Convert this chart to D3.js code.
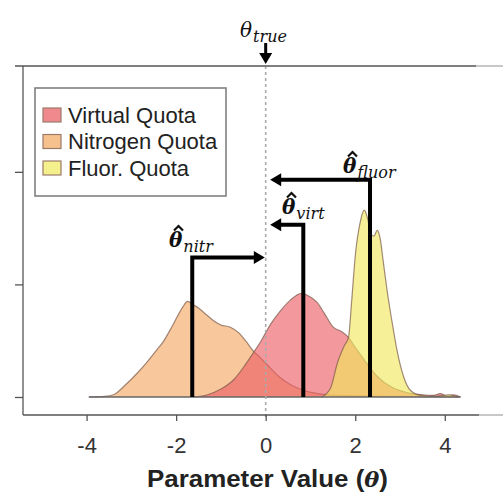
<!DOCTYPE html>
<html><head><meta charset="utf-8">
<script src="https://cdn.jsdelivr.net/npm/d3@7"></script>
<style>body{margin:0;background:#fff}svg{display:block}</style>
</head><body>
<script>
// ---- data ----
const seriesNames = ["Nitrogen Quota", "Virtual Quota", "Fluor. Quota"];
const legendOrder = ["Virtual Quota", "Nitrogen Quota", "Fluor. Quota"];
const nitrTheta = [-3.95,-3.6,-3.4,-3.1,-2.85,-2.65,-2.45,-2.29,-2.1,-1.98,-1.85,-1.75,-1.62,-1.5,-1.35,-1.17,-1.0,-0.79,-0.6,-0.45,-0.28,-0.12,0.05,0.3,0.55,0.84,1.1,1.4,2.0,3.0,4.3];
const nitrDens  = [0,0.005,0.02,0.12,0.22,0.31,0.41,0.49,0.62,0.71,0.80,0.85,0.82,0.79,0.74,0.68,0.64,0.62,0.57,0.50,0.41,0.35,0.28,0.18,0.11,0.06,0.035,0.02,0.01,0.005,0];
const virtTheta = [-1.6,-1.3,-1.0,-0.7,-0.45,-0.28,-0.1,0.1,0.32,0.55,0.8,0.95,1.15,1.3,1.51,1.7,1.85,2.0,2.2,2.5,2.8,3.2,3.5,3.75,3.9,4.05,4.2,4.35];
const virtDens  = [0,0.02,0.07,0.16,0.29,0.39,0.50,0.64,0.76,0.86,0.92,0.90,0.84,0.75,0.62,0.58,0.53,0.44,0.33,0.18,0.09,0.035,0.02,0.015,0.03,0.01,0.02,0];
const fluorTheta = [1.25,1.45,1.6,1.75,1.85,1.92,2.0,2.11,2.2,2.28,2.35,2.42,2.49,2.56,2.62,2.71,2.85,2.93,3.08,3.23,3.45,3.8,4.1,4.25,4.35];
const fluorDens  = [0,0.08,0.30,0.45,0.53,0.85,1.25,1.55,1.66,1.58,1.44,1.43,1.48,1.40,1.22,0.95,0.60,0.42,0.18,0.06,0.015,0.005,0.02,0.005,0];
const estimates = {nitr: -1.64, virt: 0.84, fluor: 2.33};
const cornerDens = {nitr: 1.24, virt: 1.53, fluor: 1.93};
const trueTheta = 0;
const xTicks = [-4,-2,0,2,4];
const yTicks = [0,1,2];
const colors = {"Virtual Quota":"#ec5a62","Nitrogen Quota":"#f4a660","Fluor. Quota":"#f0e85a"};
const swatch = {"Virtual Quota":"#f0898d","Nitrogen Quota":"#f6c18d","Fluor. Quota":"#f4f08c"};

const W=503,H=493;
const svg=d3.select("body").append("svg").attr("width",W).attr("height",H);
const x=d3.scaleLinear().domain([-5.42,5.3]).range([23,503]);
const y=d3.scaleLinear().domain([-0.16,2.94]).range([415,66]);

// densities
const dataMap={
 "Nitrogen Quota": nitrTheta.map((t,i)=>[t,nitrDens[i]]),
 "Virtual Quota": virtTheta.map((t,i)=>[t,virtDens[i]]),
 "Fluor. Quota": fluorTheta.map((t,i)=>[t,fluorDens[i]])
};
const area=d3.area().x(d=>x(d[0])).y0(y(0)).y1(d=>y(d[1])).curve(d3.curveMonotoneX);
const line=d3.line().x(d=>x(d[0])).y(d=>y(d[1])).curve(d3.curveMonotoneX);
seriesNames.forEach(n=>{
  svg.append("path").attr("d",area(dataMap[n])).attr("fill",colors[n]).attr("fill-opacity",0.62);
  svg.append("path").attr("d",line(dataMap[n])).attr("fill","none").attr("stroke","#7a5a4a").attr("stroke-opacity",0.7).attr("stroke-width",1.2);
});
// baseline
svg.append("line").attr("x1",x(-3.95)).attr("x2",x(4.35)).attr("y1",y(0)).attr("y2",y(0)).attr("stroke","#666").attr("stroke-width",1.3);

// dashed true line
svg.append("line").attr("x1",x(trueTheta)).attr("x2",x(trueTheta)).attr("y1",66).attr("y2",418)
  .attr("stroke","#aaa").attr("stroke-width",1.6).attr("stroke-dasharray","3,3");

// spines
svg.append("line").attr("x1",15).attr("x2",476).attr("y1",66).attr("y2",66).attr("stroke","#555").attr("stroke-width",1.3);
svg.append("line").attr("x1",476).attr("x2",503).attr("y1",66).attr("y2",66).attr("stroke","#aaa").attr("stroke-width",1.3);
svg.append("line").attr("x1",23).attr("x2",479).attr("y1",415).attr("y2",415).attr("stroke","#555").attr("stroke-width",1.3);
svg.append("line").attr("x1",479).attr("x2",503).attr("y1",415).attr("y2",415).attr("stroke","#aaa").attr("stroke-width",1.3);
svg.append("line").attr("x1",23).attr("x2",23).attr("y1",66).attr("y2",415).attr("stroke","#555").attr("stroke-width",1.3);

// axes
const xAxis=svg.append("g").attr("transform","translate(0,415)")
  .call(d3.axisBottom(x).tickValues(xTicks).tickSize(6).tickPadding(16).tickFormat(d=>d<0?"-"+Math.abs(d):d));
xAxis.select(".domain").remove();
xAxis.selectAll("line").attr("stroke","#555").attr("stroke-width",1.3);
xAxis.selectAll("text").attr("font-family","Liberation Sans, Arial, sans-serif").attr("font-size",22).attr("fill","#333");
const yAxis=svg.append("g").attr("transform","translate(23,0)")
  .call(d3.axisLeft(y).tickValues(yTicks).tickSize(8).tickFormat(""));
yAxis.select(".domain").remove();
yAxis.selectAll("line").attr("stroke","#555").attr("stroke-width",1.3);

// axis title
const tt=svg.append("text").attr("x",147).attr("y",487)
  .attr("textLength",241).attr("lengthAdjust","spacingAndGlyphs")
  .attr("font-family","Liberation Sans, Arial, sans-serif").attr("font-weight","bold").attr("font-size",23).attr("fill","#222");
tt.append("tspan").text("Parameter Value (");
tt.append("tspan").attr("font-style","italic").attr("font-family","DejaVu Serif, serif").attr("font-size",20).text("θ");
tt.append("tspan").text(")");

// estimate arrows
function arrowHead(tipX,tipY,dir){ // dir: -1 left, 1 right, 2 down
  const L=11,Wd=6.5;
  let pts;
  if(dir===2) pts=[[tipX,tipY],[tipX-Wd,tipY-L],[tipX+Wd,tipY-L]];
  else pts=[[tipX,tipY],[tipX-dir*L,tipY-Wd],[tipX-dir*L,tipY+Wd]];
  svg.append("path").attr("d","M"+pts.map(p=>p.join(",")).join("L")+"Z").attr("fill","#000");
}
function estArrow(est,cd,tipTheta,dir){
  const xs=x(est), yc=y(cd), tip=x(tipTheta);
  svg.append("path").attr("d",`M${xs},${y(0)}L${xs},${yc}L${tip-dir*10},${yc}`)
    .attr("fill","none").attr("stroke","#000").attr("stroke-width",4).attr("stroke-linejoin","miter");
  arrowHead(tip,yc,dir);
}
estArrow(estimates.nitr,cornerDens.nitr,-0.02,1);
estArrow(estimates.virt,cornerDens.virt,0.1,-1);
estArrow(estimates.fluor,cornerDens.fluor,0.1,-1);

// true arrow
svg.append("line").attr("x1",x(trueTheta)).attr("x2",x(trueTheta)).attr("y1",43).attr("y2",56).attr("stroke","#000").attr("stroke-width",3);
arrowHead(x(trueTheta),64,2);

// math labels
function mathLabel(px,py,hat,sub,bold){
  const t=svg.append("text").attr("x",px).attr("y",py).attr("font-family","DejaVu Serif, serif")
    .attr("font-style","italic").attr("fill","#111");
  t.append("tspan").attr("font-size",20).attr("font-weight",bold?"bold":"normal").text("θ");
  t.append("tspan").attr("font-size",16).attr("dy",5).attr("dx",1).attr("font-weight","normal").text(sub);
  if(hat){
    const cx=px+9.5, top=py-21;
    svg.append("path").attr("d",`M${cx-4.5},${top+4.5}L${cx},${top}L${cx+4.5},${top+4.5}`)
      .attr("fill","none").attr("stroke","#111").attr("stroke-width",2.2).attr("stroke-linejoin","miter");
  }
}
mathLabel(240,37,false,"true",false);
mathLabel(343,173,true,"fluor",true);
mathLabel(282,214,true,"virt",true);
mathLabel(169,247,true,"nitr",true);

// legend
svg.append("rect").attr("x",35).attr("y",88).attr("width",191).attr("height",108)
  .attr("fill","#fff").attr("stroke","#808080").attr("stroke-width",1.6);
legendOrder.forEach((n,i)=>{
  const cy=115+i*26.5;
  svg.append("rect").attr("x",43).attr("y",cy-7).attr("width",18).attr("height",14)
    .attr("fill",swatch[n]).attr("stroke","#9a7a6a").attr("stroke-width",1.2);
  svg.append("text").attr("x",68).attr("y",cy).attr("dy","0.36em").attr("font-family","Liberation Sans, Arial, sans-serif")
    .attr("font-size",22).attr("fill","#222").text(n);
});
</script>
</body></html>
